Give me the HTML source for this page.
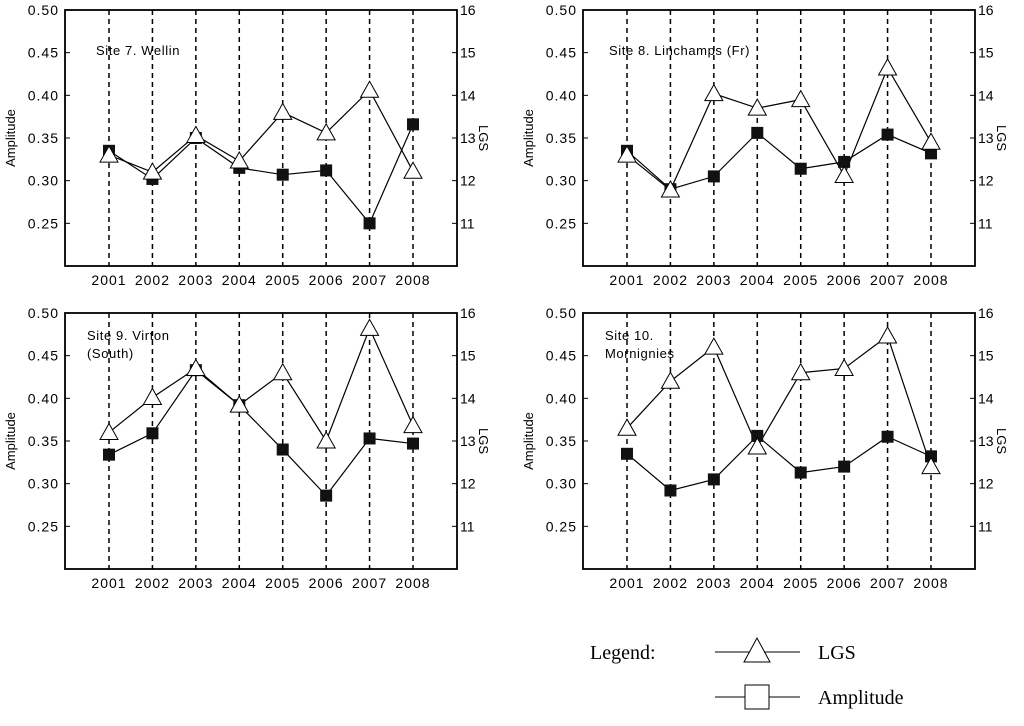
<!DOCTYPE html>
<html><head><meta charset="utf-8"><style>
body{margin:0;background:#fff;width:1024px;height:721px;overflow:hidden}
svg{font-family:"Liberation Sans",sans-serif}
</style></head><body>
<svg id="c" width="1024" height="721"></svg>
<script>
const years=['2001','2002','2003','2004','2005','2006','2007','2008'];
const ampTicks=['0.25','0.30','0.35','0.40','0.45','0.50'];
const lgsTicks=['11','12','13','14','15','16'];
const titles=[['Site 7. Wellin'],['Site 8. Linchamps (Fr)'],['Site 9. Virton','(South)'],['Site 10.','Mornignies']];
const amp1=[0.335,0.302,0.35,0.315,0.307,0.312,0.25,0.366];
const lgs1=[12.6,12.2,13.06,12.46,13.6,13.12,14.12,12.22];
const amp2=[0.335,0.29,0.305,0.356,0.314,0.322,0.354,0.332];
const lgs2=[12.6,11.78,14.04,13.7,13.9,12.12,14.64,12.9];
const amp3=[0.334,0.359,0.433,0.392,0.34,0.286,0.353,0.347];
const lgs3=[13.2,14.02,14.7,13.84,14.6,13.0,15.64,13.36];
const amp4=[0.335,0.292,0.305,0.356,0.313,0.32,0.355,0.332];
const lgs4=[13.3,14.4,15.2,12.86,14.6,14.7,15.46,12.4];
const amps=[amp1,amp2,amp3,amp4], lgss=[lgs1,lgs2,lgs3,lgs4];
const svg=document.getElementById('c');
const NS='http://www.w3.org/2000/svg';
function mk(t,a,p){const e=document.createElementNS(NS,t);for(const k in a)e.setAttribute(k,a[k]);(p||svg).appendChild(e);return e;}
const panels=[[65,10],[583,10],[65,313],[583,313]];
const titleOff=[[31,45],[26,45],[22,27],[22,27]];
panels.forEach((pp,i)=>{
  const L=pp[0],T=pp[1],R=L+392,B=T+256;
  const g=mk('g',{});
  
  
  const x=j=>L+44+j*(304/7);
  const ya=v=>B-(v-0.2)/0.3*(B-T);
  const yl=v=>B-(v-10)/6*(B-T);
  years.forEach((yr,j)=>{
    const l=mk('line',{x1:x(j),x2:x(j),y1:T,y2:B,stroke:'#000','stroke-width':1.5,'stroke-dasharray':'5,4'},g);
    
    
    const t=mk('text',{x:x(j),y:B+19,'text-anchor':'middle','font-size':14,'letter-spacing':1},g);t.textContent=yr;
    
    
  });
  const box=mk('rect',{x:L,y:T,width:R-L,height:B-T,fill:'none',stroke:'#000','stroke-width':1.8},g);
  
  
  ampTicks.forEach(s=>{const y=ya(+s);mk('line',{x1:L,x2:L+5,y1:y,y2:y,stroke:'#000'},g);
    const t=mk('text',{x:L-6,y:y+5,'text-anchor':'end','font-size':14,'letter-spacing':1},g);t.textContent=s;
    
    });
  lgsTicks.forEach(s=>{const y=yl(+s);mk('line',{x1:R-5,x2:R,y1:y,y2:y,stroke:'#000'},g);
    const t=mk('text',{x:R+3,y:y+5,'font-size':14},g);t.textContent=s;
    
    });
  const at=mk('text',{transform:`translate(${L-50},${(T+B)/2}) rotate(-90)`,'text-anchor':'middle','font-size':13},g);at.textContent='Amplitude';
  
  
  const lt=mk('text',{transform:`translate(${R+22},${(T+B)/2}) rotate(90)`,'text-anchor':'middle','font-size':13},g);lt.textContent='LGS';
  
  
  titles[i].forEach((s,k)=>{const t=mk('text',{x:L+titleOff[i][0],y:T+titleOff[i][1]+k*18,'font-size':13,'letter-spacing':0.6},g);t.textContent=s;
    
    });
  const A=amps[i],G=lgss[i];
  const pl=mk('polyline',{points:A.map((v,j)=>x(j)+','+ya(v)).join(' '),fill:'none',stroke:'#000','stroke-width':1.2},g);
  
  
  const pt=mk('polyline',{points:G.map((v,j)=>x(j)+','+yl(v)).join(' '),fill:'none',stroke:'#000','stroke-width':1.2},g);
  
  
  A.forEach((v,j)=>{const r=mk('rect',{x:x(j)-6,y:ya(v)-6,width:12,height:12,fill:'#111'},g);
    
    });
  G.forEach((v,j)=>{const cx=x(j),cy=yl(v);
    const p=mk('polygon',{points:`${cx},${cy-9} ${cx-9},${cy+7} ${cx+9},${cy+7}`,fill:'#fff',stroke:'#000','stroke-width':1},g);
    
    });
});
</script>
<svg style="position:absolute;left:0;top:0" width="1024" height="721">
<text x="590" y="659" font-family="Liberation Serif,serif" font-size="20">Legend:</text>
<g>
<line x1="715" x2="800" y1="652" y2="652" stroke="#000"/>
<polygon points="757,638 744,662 770,662" fill="#fff" stroke="#000"/>
<text x="818" y="659" font-family="Liberation Serif,serif" font-size="20">LGS</text></g>
<g>
<line x1="715" x2="800" y1="697" y2="697" stroke="#000"/>
<rect x="745" y="685" width="24" height="24" fill="#fff" stroke="#000"/>
<text x="818" y="704" font-family="Liberation Serif,serif" font-size="20">Amplitude</text></g>
</svg>
</body></html>
